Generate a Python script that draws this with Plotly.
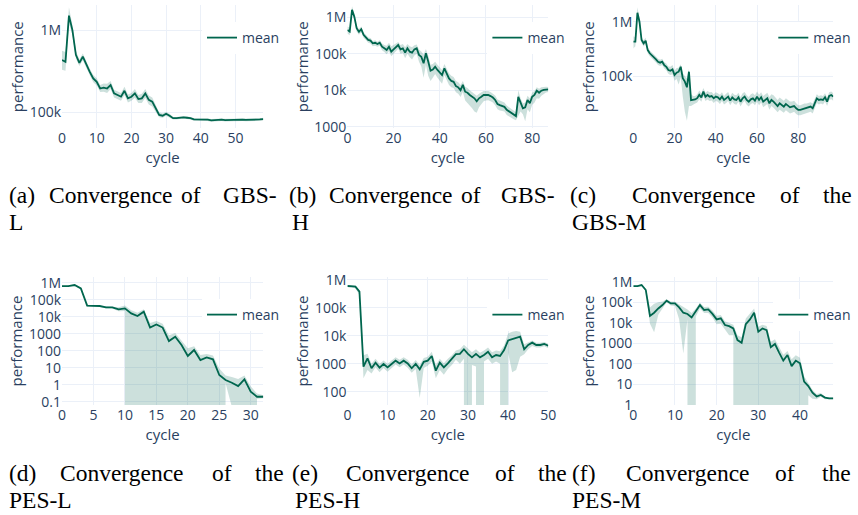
import plotly.graph_objects as go

# ---------------- data ----------------
mean_a = [433000, 412000, 1500000, 1000000, 500000, 400000, 475000, 375000, 310000, 258000,
          235000, 195000, 200000, 195000, 215000, 170000, 162000, 155000, 183000, 148000,
          155000, 170000, 145000, 148000, 170000, 142000, 135000, 112000, 93000, 91000,
          96000, 91000, 85000, 85000, 86000, 87000, 86000, 85000, 82000, 82000,
          82000, 81500, 81500, 80000, 81000, 81500, 81500, 80500, 81000, 80500,
          80500, 81000, 81500, 81000, 81000, 81500, 81500, 82000, 83000]
upper_a = [560000, 540000, 1900000, 1150000, 560000, 440000, 520000, 410000, 340000, 285000,
           260000, 215000, 225000, 222000, 240000, 188000, 180000, 172000, 205000, 165000,
           172000, 192000, 162000, 168000, 192000, 160000, 152000, 125000, 100000, 97000,
           101000, 96000, 88000, 88000, 89000, 90000, 89000, 88000, 85000, 85000,
           85000, 84500, 84500, 83000, 84000, 84500, 84500, 83500, 84000, 83500,
           83500, 84000, 84500, 84000, 84000, 84500, 84500, 85000, 86000]
lower_a = [330000, 320000, 1200000, 880000, 450000, 365000, 430000, 340000, 283000, 233000,
           212000, 177000, 178000, 172000, 192000, 152000, 145000, 138000, 162000, 132000,
           138000, 150000, 130000, 130000, 150000, 125000, 118000, 100000, 87000, 86000,
           91000, 86000, 82000, 82000, 83000, 84000, 83000, 82000, 79000, 79000,
           79000, 78500, 78500, 77000, 78000, 78500, 78500, 77500, 78000, 77500,
           77500, 78000, 78500, 78000, 78000, 78500, 78500, 79000, 80000]

mean_b = [450000, 405000, 1600000, 1040000, 500000, 400000, 470000, 330000, 283000, 240000,
          230000, 193000, 200000, 185000, 200000, 156000, 141000, 127000, 156000, 114000,
          132000, 150000, 174000, 132000, 141000, 107000, 141000, 114000, 107000, 132000,
          141000, 93000, 83000, 55000, 103000, 61000, 34500, 37000, 44000, 36000,
          30000, 26000, 40000, 29000, 21000, 18000, 17000, 13000, 12000, 10000,
          14000, 9100, 8500, 7400, 6600, 6000, 5000, 6000, 6600, 7400,
          7400, 7400, 6900, 6300, 5400, 4200, 3900, 3700, 3500, 2900,
          2600, 2400, 2100, 1950, 6600, 4400, 3200, 3400, 5400, 4400,
          6600, 7400, 9700, 8500, 9700, 10200, 10500, 10500]
upper_b = [560000, 520000, 2000000, 1250000, 600000, 480000, 560000, 390000, 330000, 280000,
           270000, 225000, 235000, 215000, 235000, 190000, 175000, 165000, 200000, 160000,
           175000, 190000, 210000, 175000, 185000, 150000, 185000, 160000, 150000, 170000,
           180000, 130000, 115000, 95000, 135000, 90000, 50000, 52000, 60000, 50000,
           42000, 36000, 52000, 40000, 29000, 25000, 23000, 18000, 16500, 14000,
           18000, 12500, 11500, 10000, 9000, 8200, 7000, 8000, 8800, 9500,
           9500, 9500, 8900, 8200, 7200, 5600, 5200, 4900, 4600, 3800,
           3400, 3100, 2700, 2500, 10000, 6000, 4400, 4600, 7000, 6000,
           8500, 9500, 12000, 11000, 12000, 12500, 12500, 12200]
lower_b = [360000, 320000, 1300000, 850000, 410000, 330000, 390000, 275000, 240000, 200000,
           192000, 160000, 165000, 155000, 165000, 125000, 112000, 97000, 118000, 85000,
           100000, 115000, 138000, 100000, 105000, 75000, 100000, 80000, 70000, 90000,
           100000, 60000, 45000, 22000, 50000, 25000, 18000, 22000, 28000, 22000,
           18000, 15000, 26000, 18000, 14000, 12000, 11500, 8800, 8000, 6500,
           9000, 5200, 4500, 3800, 3200, 2600, 2400, 3400, 4200, 5000,
           5200, 5300, 5000, 4600, 3900, 3000, 2800, 2700, 2600, 2100,
           1900, 1800, 1600, 1500, 1900, 2600, 2200, 1400, 3000, 2500,
           4000, 4500, 6000, 5800, 7000, 8000, 8600, 9000]

mean_c = [430000, 430000, 1460000, 1000000, 460000, 400000, 447000, 300000, 262000, 243000,
          220000, 202000, 183000, 176000, 183000, 159000, 148000, 129000, 125000, 132000,
          104000, 115000, 120000, 148000, 91000, 79000, 62000, 120000, 36000, 36000,
          37000, 39000, 45000, 40500, 51500, 41500, 44700, 41700, 42800, 38800,
          41700, 40500, 37200, 41700, 36200, 38800, 41700, 35200, 40500, 37200,
          36200, 40500, 33700, 38800, 41700, 36200, 33700, 37200, 38800, 35200,
          41700, 36200, 40500, 33700, 36200, 38800, 31400, 36200, 33700, 30600,
          28000, 31400, 29300, 27300, 30600, 28000, 26500, 27300, 28000, 25400,
          23700, 23700, 24400, 25400, 25400, 26500, 27300, 25400, 31400, 38800,
          36200, 37200, 36200, 40500, 33700, 42800, 44700, 41700]
upper_c = [540000, 520000, 1850000, 1150000, 520000, 455000, 505000, 340000, 295000, 275000,
           250000, 228000, 207000, 200000, 208000, 182000, 170000, 150000, 148000, 160000,
           125000, 140000, 142000, 165000, 112000, 100000, 90000, 135000, 46000, 43000,
           43000, 46000, 54000, 48000, 60000, 49000, 53000, 50000, 51000, 46000,
           50000, 48000, 45000, 50000, 43000, 47000, 51000, 42000, 49000, 45000,
           44000, 49000, 41000, 48000, 51000, 44000, 41000, 46000, 48000, 44000,
           52000, 45000, 50000, 43000, 46000, 49000, 41000, 46000, 44000, 40000,
           36000, 40000, 37000, 35000, 39000, 36000, 34000, 34000, 35000, 31500,
           29000, 29000, 30000, 31000, 31000, 32000, 33000, 31000, 38000, 46000,
           43000, 44000, 43000, 48000, 40000, 50000, 52000, 48000]
lower_c = [320000, 355000, 1150000, 860000, 405000, 350000, 393000, 262000, 230000, 213000,
           192000, 177000, 160000, 153000, 160000, 138000, 128000, 110000, 104000, 108000,
           82000, 88000, 70000, 95000, 42000, 22000, 15000, 28000, 28000, 30000,
           31000, 32500, 37500, 33500, 43000, 34500, 37000, 34500, 35500, 32000,
           34500, 33500, 30500, 34500, 30000, 32000, 34500, 29000, 33500, 30500,
           29500, 33500, 27500, 32000, 34500, 29500, 27500, 30500, 32000, 29000,
           33500, 29000, 32500, 26500, 28500, 30500, 24000, 28000, 26000, 23500,
           21500, 24000, 22500, 21000, 23500, 21500, 20500, 21000, 22000, 20000,
           19000, 19000, 19500, 20500, 20500, 21500, 22000, 20500, 26000, 32000,
           30000, 31000, 30000, 34000, 28000, 36000, 37500, 35000]

mean_d = [630000, 630000, 730000, 465000, 45000, 42500, 42500, 35600, 35600, 27000,
          31000, 15700, 11000, 19700, 2300, 3500, 2300, 370, 665, 215,
          49, 110, 28, 40, 31, 3.7, 1.9, 1.3, 0.83, 2.05,
          0.39, 0.195, 0.195]
upper_d = [660000, 660000, 800000, 520000, 50000, 47000, 47000, 42000, 42000, 36000,
           45000, 24000, 17000, 27000, 4200, 5500, 3800, 800, 1100, 420,
           140, 180, 55, 65, 52, 9, 3.5, 2.8, 2.2, 3.5,
           0.8, 0.3, 0.24]
lower_d = [600000, 600000, 660000, 410000, 40000, 38500, 38000, 30000, 30000, 21000,
           22000, 0, 0, 0, 0, 0, 0, 0, 0, 0,
           0, 0, 0, 0, 0, 0, 1.2, 0.05, 0, 0,
           0, 0.15, 0.16]

mean_e = [610000, 610000, 577000, 382000, 790, 1550, 690, 1090, 725, 980,
          740, 980, 1290, 1030, 1290, 1030, 690, 980, 630, 1170,
          1290, 1900, 565, 1090, 740, 1030, 1450, 2200, 2250, 3300,
          2250, 1700, 2250, 1700, 2050, 2700, 1700, 2050, 1900, 3100,
          6800, 7400, 8100, 9300, 3300, 4700, 5700, 4700, 4700, 5100,
          4400]
upper_e = [650000, 650000, 640000, 430000, 2000, 2300, 1000, 1500, 1000, 1300,
           1000, 1300, 1700, 1400, 1700, 1400, 950, 1350, 900, 1600,
           1800, 2700, 900, 1500, 1050, 1500, 2000, 3000, 3300, 4800,
           3500, 2600, 3300, 2500, 3000, 3800, 2600, 3000, 2800, 4500,
           12000, 14000, 15000, 14000, 5000, 6000, 6800, 5600, 5600, 6000,
           5200]
lower_e = [570000, 570000, 500000, 290000, 300, 600, 450, 750, 500, 700,
           520, 700, 950, 750, 950, 720, 480, 650, 60, 700,
           850, 1200, 300, 600, 400, 650, 900, 1400, 1000, 1500,
           0, 900, 800, 0, 1200, 1500, 1000, 1200, 1000, 0,
           2500, 500, 600, 1800, 2200, 3300, 4300, 3800, 3800, 4200,
           3600]

mean_f = [615000, 615000, 690000, 393000, 21500, 31000, 50000, 73000, 119000, 88000,
          88000, 56000, 31000, 27000, 18300, 35000, 73000, 42000, 45000, 27000,
          14700, 16600, 7800, 6900, 5300, 1450, 1070, 8700, 14700, 31000,
          3700, 5300, 4400, 645, 930, 355, 145, 270, 78, 145,
          107, 13.8, 8.4, 4, 2.6, 3.1, 2.3, 2.1, 2.1]
upper_f = [660000, 660000, 760000, 450000, 55000, 85000, 100000, 110000, 140000, 110000,
           105000, 80000, 60000, 45000, 30000, 50000, 95000, 58000, 60000, 40000,
           22000, 24000, 12000, 10000, 8000, 2500, 2000, 16000, 30000, 50000,
           6500, 8000, 7000, 1200, 1600, 650, 280, 420, 170, 260,
           200, 25, 12, 5.5, 3.4, 3.8, 2.6, 2.3, 2.3]
lower_f = [570000, 570000, 620000, 340000, 9000, 3500, 25000, 50000, 100000, 70000,
           65000, 15000, 320, 15000, 0, 20000, 50000, 30000, 30000, 18000,
           8500, 9000, 4500, 2500, 2500, 0, 0, 0, 0, 0,
           0, 0, 0, 0, 0, 0, 0, 0, 0, 0,
           0, 0, 3, 2, 1.9, 2.5, 1.9, 1.9, 1.9]

captions = [
    ["(a)", "Convergence", "of", "GBS-", "L"],
    ["(b)", "Convergence", "of", "GBS-", "H"],
    ["(c)", "Convergence", "of", "the", "GBS-M"],
    ["(d)", "Convergence", "of", "the", "PES-L"],
    ["(e)", "Convergence", "of", "the", "PES-H"],
    ["(f)", "Convergence", "of", "the", "PES-M"],
]

panels = [
    (mean_a, upper_a, lower_a),
    (mean_b, upper_b, lower_b),
    (mean_c, upper_c, lower_c),
    (mean_d, upper_d, lower_d),
    (mean_e, upper_e, lower_e),
    (mean_f, upper_f, lower_f),
]

# ---------------- layout helpers ----------------
W, H = 858, 515
col_px = [(62.0, 263.3), (347.4, 548.3), (633.3, 833.3)]
row_px = [(5.0, 128.4), (277.0, 405.0)]
x_ranges = [[0, 58], [0, 87], [0, 97], [0, 32], [0, 50], [0, 48]]
x_dticks = [10, 20, 20, 5, 10, 10]
y_ranges = [[4.805, 6.305], [2.953, 6.337], [4.035, 6.308],
            [-1.194, 6.335], [1.523, 6.107], [0.0, 6.229]]

LINE = "rgb(0,102,78)"
FILL = "rgba(0,102,78,0.2)"
FONT = '"Open Sans", verdana, arial, sans-serif'
SERIF = "Liberation Serif"

fig = go.Figure()
layout = dict(
    width=W, height=H, template="plotly_white",
    margin=dict(l=0, r=0, t=0, b=0),
    font=dict(family=FONT, size=14, color="#2a3f5f"),
    paper_bgcolor="white", plot_bgcolor="white",
    annotations=[],
)

for i, (mean, up, lo) in enumerate(panels):
    r, c = divmod(i, 3)
    sfx = "" if i == 0 else str(i + 1)
    xs = list(range(len(mean)))
    leg = "legend" + sfx
    fig.add_trace(go.Scatter(x=xs, y=up, mode="lines", line=dict(width=0, color=LINE),
                             showlegend=False, hoverinfo="skip",
                             xaxis="x" + sfx, yaxis="y" + sfx))
    fig.add_trace(go.Scatter(x=xs, y=lo, mode="lines", line=dict(width=0, color=LINE),
                             fill="tonexty", fillcolor=FILL, showlegend=False,
                             hoverinfo="skip", xaxis="x" + sfx, yaxis="y" + sfx))
    fig.add_trace(go.Scatter(x=xs, y=mean, mode="lines", name="mean",
                             line=dict(width=1.8, color=LINE), legend=leg,
                             xaxis="x" + sfx, yaxis="y" + sfx))
    x0, x1 = col_px[c]
    y0, y1 = row_px[r]
    layout["xaxis" + sfx] = dict(
        domain=[x0 / W, x1 / W], anchor="y" + sfx, range=x_ranges[i],
        dtick=x_dticks[i], automargin=False, showline=False,
        gridcolor="#EBF0F8", zeroline=False,
        title=dict(text="cycle", font=dict(size=15), standoff=4),
    )
    layout["yaxis" + sfx] = dict(
        domain=[1 - y1 / H, 1 - y0 / H], anchor="x" + sfx, type="log",
        range=y_ranges[i], dtick=1, automargin=False, showline=False,
        gridcolor="#EBF0F8",
        title=dict(text="performance", font=dict(size=15), standoff=2),
    )
    leg_y = 38 if r == 0 else 315
    layout[leg] = dict(
        x=(x0 + 140) / W, y=1 - leg_y / H, xanchor="left", yanchor="middle",
        bgcolor="white", font=dict(size=14), borderwidth=0,
    )

# captions (justified like the LaTeX sub-captions)
cap_rows = [(195, 222), (473, 500)]
word_pos = [
    # (label left, Convergence center, of center, last word center, line-2 left)
    (8, 111, 191, 250, 8),
    (288, 391, 471, 528, 291),
    (569, 693.5, 790, 837.5, 571),
    (8, 122, 221.5, 269.5, 8),
    (291, 408, 504.5, 552.5, 294),
    (571, 688, 784.5, 836.5, 571),
]
for i, words in enumerate(captions):
    r = i // 3
    ya, yb = cap_rows[r]
    p = word_pos[i]
    specs = [
        (words[0], p[0], ya, "left"),
        (words[1], p[1], ya, "center"),
        (words[2], p[2], ya, "center"),
        (words[3], p[3], ya, "center"),
        (words[4], p[4], yb, "left"),
    ]
    for text, px, py, anc in specs:
        layout["annotations"].append(dict(
            text=text, x=px / W, y=1 - py / H, xref="paper", yref="paper",
            xanchor=anc, yanchor="middle", showarrow=False, borderpad=0,
            font=dict(family=SERIF, size=23.5, color="black"),
        ))

fig.update_layout(**layout)
fig.write_html(
    "out.html",
    config={"displayModeBar": False},
    post_script="document.body.style.margin='0';document.body.style.overflow='hidden';",
)
